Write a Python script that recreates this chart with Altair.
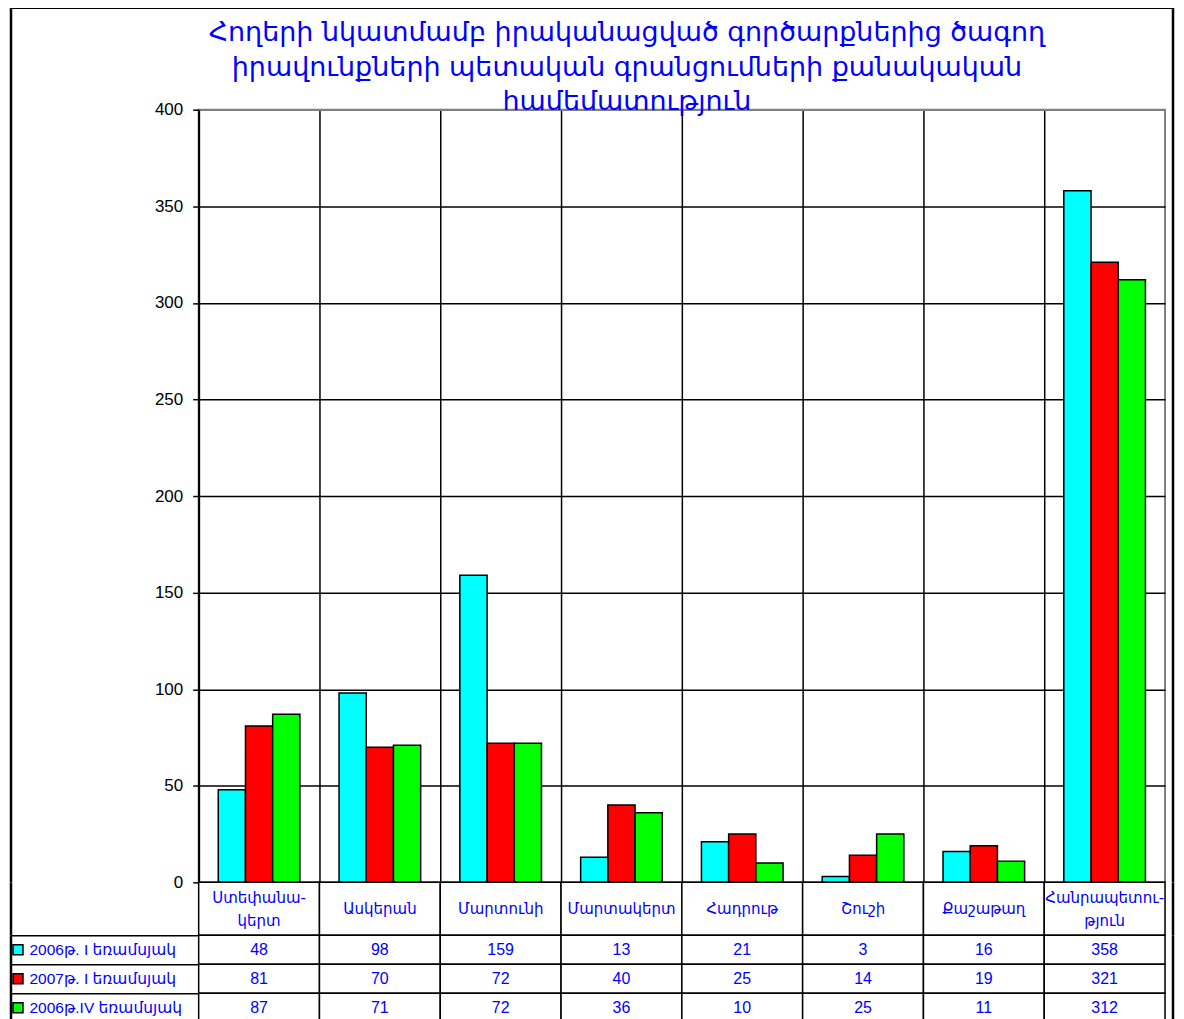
import altair as alt
import pandas as pd

title_lines = [
    "Հողերի նկատմամբ իրականացված գործարքներից ծագող",
    "իրավունքների պետական գրանցումների քանակական",
    "համեմատություն",
]
categories = ["Ստեփանակերտ", "Ասկերան", "Մարտունի", "Մարտակերտ",
              "Հադրութ", "Շուշի", "Քաշաթաղ", "Հանրապետություն"]
category_labels = ["Ստեփանա-\nկերտ", "Ասկերան", "Մարտունի", "Մարտակերտ",
                   "Հադրութ", "Շուշի", "Քաշաթաղ", "Հանրապետու-\nթյուն"]
series_labels = ["2006թ. I եռամսյակ", "2007թ. I եռամսյակ", "\u00a0\u00a02006թ.IV եռամսյակ"]
values_2006_q1 = [48, 98, 159, 13, 21, 3, 16, 358]
values_2007_q1 = [81, 70, 72, 40, 25, 14, 19, 321]
values_2006_q4 = [87, 71, 72, 36, 10, 25, 11, 312]
series_colors = ["#00FFFF", "#FF0000", "#00FF00"]
y_ticks = [0, 50, 100, 150, 200, 250, 300, 350, 400]

series_values = [values_2006_q1, values_2007_q1, values_2006_q4]
rows = []
for s, vals in zip(series_labels, series_values):
    for c, v in zip(categories, vals):
        rows.append({"category": c, "series": s, "value": v})
df = pd.DataFrame(rows)
hdf = pd.DataFrame({"category": categories, "label": category_labels})
sdf = pd.DataFrame({"series": series_labels})
one = pd.DataFrame({"k": [0]})

W = 968
H = 774
HH = 53
RH = 87
BLUE = "#0000FF"
ARM = "DejaVu Sans"
NUM = "Liberation Sans"
L = -188
R = W + 8

xscale = alt.Scale(domain=categories, paddingInner=0, paddingOuter=0)
color = alt.Color("series:N", sort=series_labels,
                  scale=alt.Scale(domain=series_labels, range=series_colors), legend=None)

bars = alt.Chart(df).mark_bar(stroke="black", strokeWidth=1.5).encode(
    x=alt.X("category:N", sort=categories, scale=xscale,
            axis=alt.Axis(title=None, labels=False, ticks=False, grid=True,
                          gridColor="black", gridWidth=1.5, bandPosition=0,
                          domainColor="black", domainWidth=2,
                          minExtent=0, maxExtent=0)),
    xOffset=alt.XOffset("series:N", sort=series_labels,
                        scale=alt.Scale(paddingInner=0, paddingOuter=0.72)),
    y=alt.Y("value:Q", scale=alt.Scale(domain=[0, 400], nice=False),
            axis=alt.Axis(title=None, values=y_ticks, grid=True,
                          gridColor=alt.condition("datum.value == 400",
                                                  alt.value("#808080"), alt.value("black")),
                          gridWidth=1.5, tickColor="black", tickSize=6, tickWidth=1.5,
                          domainColor="black", domainWidth=2, labelFont=NUM,
                          labelFontSize=17, labelColor="black", labelPadding=10)),
    color=color,
)

frame_top = alt.Chart(one).mark_rule(color="black", strokeWidth=2.5).encode(
    x=alt.value(L), x2=alt.value(R), y=alt.value(-102))
frame_left_top = alt.Chart(one).mark_rule(color="black", strokeWidth=2.5).encode(
    x=alt.value(L), y=alt.value(-102), y2=alt.value(H))
frame_right_top = alt.Chart(one).mark_rule(color="black", strokeWidth=2.5).encode(
    x=alt.value(R), y=alt.value(-102), y2=alt.value(H))

bar_chart = alt.layer(bars, frame_top, frame_left_top, frame_right_top).properties(
    width=W, height=H,
    view=alt.ViewBackground(stroke="#808080", strokeWidth=2),
    title=alt.TitleParams(text=title_lines, fontSize=27, color=BLUE, font=ARM,
                          fontWeight="normal", lineHeight=35, anchor="middle",
                          frame="group", baseline="alphabetic", offset=-131, dx=-55),
)

hbase = alt.Chart(hdf).encode(x=alt.X("category:N", sort=categories, scale=xscale, axis=None))
hdr_rect = hbase.mark_rect(fill="white", stroke="black", strokeWidth=1.5)
hdr_text1 = hbase.mark_text(color=BLUE, font=ARM, fontSize=15).encode(
    text="label:N").transform_filter("indexof(datum.label, '\\n') < 0")
hdr_text2 = hbase.mark_text(color=BLUE, font=ARM, fontSize=15, lineBreak="\n",
                            lineHeight=23, dy=-11).encode(
    text="label:N").transform_filter("indexof(datum.label, '\\n') >= 0")
hdr_left = alt.Chart(one).mark_rule(color="black", strokeWidth=2.5).encode(x=alt.value(L))
hdr_right = alt.Chart(one).mark_rule(color="black", strokeWidth=2.5).encode(x=alt.value(R))
hdr_chart = alt.layer(hdr_rect, hdr_text1, hdr_text2, hdr_left, hdr_right).properties(
    width=W, height=HH)

vbase = alt.Chart(df).encode(
    x=alt.X("category:N", sort=categories, scale=xscale, axis=None),
    y=alt.Y("series:N", sort=series_labels,
            scale=alt.Scale(domain=series_labels, paddingInner=0, paddingOuter=0),
            axis=alt.Axis(title=None, bandPosition=0, tickSize=-L, tickColor="black",
                          tickWidth=1.5, labelAlign="left", labelPadding=-18,
                          labelBaseline="middle",
                          labelFont=NUM + ", " + ARM, labelFontSize=15.5,
                          labelColor=BLUE, domain=False,
                          minExtent=-L, maxExtent=-L)),
)
val_rect = vbase.mark_rect(fill="white", stroke="black", strokeWidth=1.5)
val_text = vbase.mark_text(color=BLUE, font=NUM, fontSize=16).encode(text="value:Q")
swatch = alt.Chart(sdf).mark_point(shape="square", filled=True, size=100, opacity=1,
                                   stroke="black", strokeWidth=1.5).encode(
    x=alt.value(-181),
    y=alt.Y("series:N", sort=series_labels),
    color=color,
)
val_left = alt.Chart(one).mark_rule(color="black", strokeWidth=2.5).encode(x=alt.value(L))
val_right = alt.Chart(one).mark_rule(color="black", strokeWidth=2.5).encode(x=alt.value(R))
val_chart = alt.layer(val_rect, val_text, swatch, val_left, val_right).properties(width=W, height=RH)

chart = alt.vconcat(bar_chart, hdr_chart, val_chart, spacing=0, bounds="flush").properties(
    padding={"left": 0, "top": -4, "right": 0, "bottom": 0}
).configure_view(stroke=None).configure(background="white")

chart.save("out.html", embed_options={"renderer": "svg", "actions": False})
